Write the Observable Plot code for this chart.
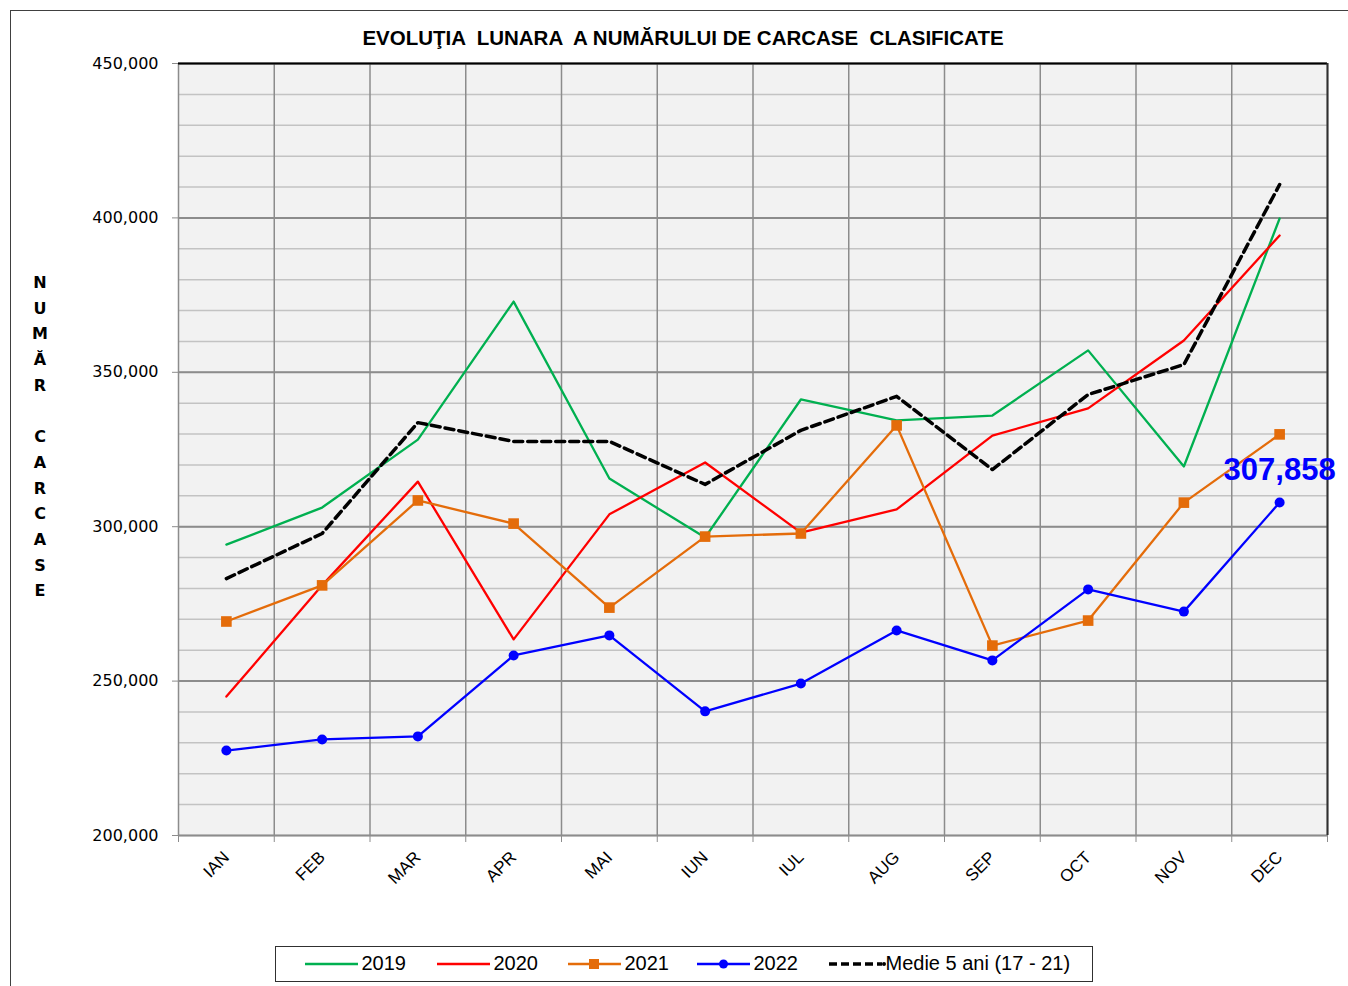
<!DOCTYPE html>
<html>
<head>
<meta charset="utf-8">
<script src="https://cdn.jsdelivr.net/npm/d3@7"></script>
<script src="https://cdn.jsdelivr.net/npm/@observablehq/plot@0.6"></script>
<style>
  html, body { margin: 0; padding: 0; background: #ffffff; }
  #wrap { position: relative; width: 1348px; height: 986px; overflow: hidden; }
  #border { position: absolute; left: 10px; top: 10px; width: 1400px; height: 1000px; border-left: 1px solid #404040; border-top: 1px solid #404040; box-sizing: border-box; }
  #title { position: absolute; left: 0; top: 26px; width: 1366px; text-align: center; font-family: "Liberation Sans", Arial, sans-serif; font-weight: bold; font-size: 20.5px; white-space: pre; color: #000; }
  #ylab { position: absolute; left: 30px; top: 270px; width: 20px; text-align: center; font-family: "DejaVu Sans", sans-serif; font-weight: bold; font-size: 16px; line-height: 25.7px; color: #000; }
  #chart { position: absolute; left: 0; top: 0; }
  #legend { position: absolute; left: 275px; top: 946px; width: 818px; height: 36px; border: 1.5px solid #303030; box-sizing: border-box; font-family: "Liberation Sans", Arial, sans-serif; font-size: 20px; color: #000; }
  .item { position: absolute; top: 0; height: 33px; display: flex; align-items: center; }
</style>
</head>
<body>
<div id="wrap">
  <div id="border"></div>
  <div id="chart"></div>
  <div id="title"></div>
  <div id="ylab"></div>
  <div id="legend"></div>
</div>
<script>
// ---- data ----
const months = ["IAN", "FEB", "MAR", "APR", "MAI", "IUN", "IUL", "AUG", "SEP", "OCT", "NOV", "DEC"];
const s2019 = [294200, 306200, 328200, 372900, 315600, 296500, 341200, 334400, 336000, 357100, 319500, 399800];
const s2020 = [245000, 281000, 314600, 263500, 304000, 320800, 298100, 305600, 329500, 338300, 360300, 394300];
const s2021 = [269300, 281000, 308500, 301000, 273800, 296800, 297800, 332800, 261500, 269600, 307800, 329900];
const s2022 = [227500, 231100, 232100, 258300, 264800, 240200, 249200, 266400, 256700, 279700, 272500, 307858];
const medie = [283200, 297800, 333700, 327600, 327600, 313700, 331200, 342200, 318500, 342800, 352500, 410800];
const seriesNames = ["2019", "2020", "2021", "2022", "Medie 5 ani (17 - 21)"];
const seriesColors = ["#00b050", "#ff0000", "#e46c0a", "#0000ff", "#000000"];
const yMajorTicks = [200000, 250000, 300000, 350000, 400000, 450000];
const titleText = "EVOLUŢIA  LUNARA  A NUMĂRULUI DE CARCASE  CLASIFICATE";
const yLabelLetters = ["N", "U", "M", "Ă", "R", "", "C", "A", "R", "C", "A", "S", "E"];
const highlightValue = 307858;

// ---- derived tables ----
const idx = months.map((m, i) => i);
const toRows = arr => arr.map((v, i) => ({month: i, value: v}));
const r2019 = toRows(s2019), r2020 = toRows(s2020), r2021 = toRows(s2021), r2022 = toRows(s2022), rMed = toRows(medie);
const yMinorTicks = d3.range(200000, 450001, 10000);
const bounds = d3.range(-0.5, months.length, 1);
const fmt = d3.format(",");

const chart = Plot.plot({
  width: 1348,
  height: 900,
  marginLeft: 178,
  marginRight: 21,
  marginTop: 63,
  marginBottom: 65,
  x: {domain: [-0.5, 11.5], axis: null},
  y: {domain: [200000, 450000], axis: null},
  style: {background: "transparent", overflow: "visible"},
  marks: [
    Plot.frame({fill: "#f2f2f2", stroke: null}),
    Plot.ruleY(yMinorTicks, {stroke: "#c3c3c3", strokeWidth: 1.5}),
    Plot.ruleY(yMajorTicks, {stroke: "#8c8c8c", strokeWidth: 2}),
    Plot.ruleX(bounds, {stroke: "#8c8c8c", strokeWidth: 1.5}),
    Plot.ruleY([450000], {stroke: "#000000", strokeWidth: 2}),
    Plot.ruleX([11.5], {stroke: "#303030", strokeWidth: 2}),
    Plot.axisY(yMajorTicks, {tickSize: 6, tickPadding: 14, tickFormat: fmt, stroke: "#8c8c8c", fontSize: 16, fontFamily: "DejaVu Sans, sans-serif", fill: "#000", label: null}),
    Plot.axisX(bounds, {tickSize: 7, tickFormat: () => "", stroke: "#8c8c8c", label: null}),
    Plot.axisX(idx, {tickSize: 0, tickPadding: 19, tickRotate: -45, tickFormat: i => months[i], fontSize: 17, fontFamily: "Liberation Sans, Arial, sans-serif", fill: "#000", label: null, dx: 0}),
    Plot.line(r2019, {x: "month", y: "value", stroke: seriesColors[0], strokeWidth: 2.3}),
    Plot.line(r2020, {x: "month", y: "value", stroke: seriesColors[1], strokeWidth: 2.3}),
    Plot.line(r2021, {x: "month", y: "value", stroke: seriesColors[2], strokeWidth: 2.3}),
    Plot.dot(r2021, {x: "month", y: "value", symbol: "square", r: 6, fill: seriesColors[2], stroke: null}),
    Plot.line(r2022, {x: "month", y: "value", stroke: seriesColors[3], strokeWidth: 2.3}),
    Plot.dot(r2022, {x: "month", y: "value", r: 5, fill: seriesColors[3], stroke: null}),
    Plot.line(rMed, {x: "month", y: "value", stroke: seriesColors[4], strokeWidth: 3.5, strokeDasharray: "9,5"}),
    Plot.text(r2022.filter(d => d.value === highlightValue), {x: "month", y: "value", text: d => fmt(d.value), dy: -32, fontSize: 31, fontWeight: "bold", fill: seriesColors[3], fontFamily: "Liberation Sans, Arial, sans-serif"})
  ]
});
document.getElementById("chart").appendChild(chart);

document.getElementById("title").textContent = titleText;
document.getElementById("ylab").innerHTML = yLabelLetters.map(l => `<div style="height:25.7px">${l || "&nbsp;"}</div>`).join("");

// ---- legend ----
const legend = document.getElementById("legend");
const legendX = [28.5, 160.5, 291.5, 420.5, 552.5];
seriesNames.forEach((name, i) => {
  const it = document.createElement("div");
  it.className = "item";
  it.style.left = legendX[i] + "px";
  let sym = "";
  if (i === 2) sym = `<rect x="21" y="4" width="10" height="10" fill="${seriesColors[i]}"/>`;
  if (i === 3) sym = `<circle cx="26.5" cy="9" r="4.5" fill="${seriesColors[i]}"/>`;
  if (i === 4) sym = `<circle cx="55" cy="9" r="2" fill="#000"/>`;
  const dash = i === 4 ? `stroke-dasharray="8,4" stroke-width="3.5"` : `stroke-width="2.5"`;
  const w = i === 4 ? 57 : 53;
  const gap = i === 4 ? 0 : 4;
  it.innerHTML = `<svg width="${w}" height="18" style="margin-right:${gap}px"><line x1="0" x2="53" y1="9" y2="9" stroke="${seriesColors[i]}" ${dash}/>${sym}</svg><span>${name}</span>`;
  legend.appendChild(it);
});
</script>
</body>
</html>
